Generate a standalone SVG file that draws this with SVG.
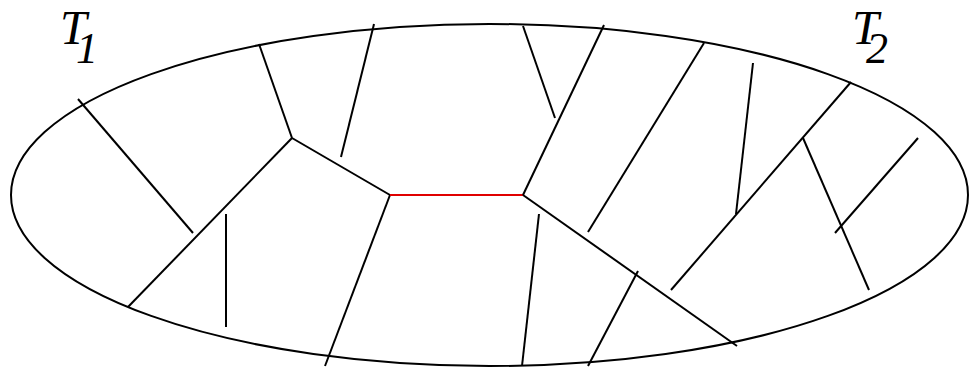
<svg xmlns="http://www.w3.org/2000/svg" width="972" height="368" viewBox="0 0 972 368">
<style>
.e{fill:none;stroke:#000;stroke-width:2}
.l{stroke:#000;stroke-width:2;stroke-linecap:butt}
.r{stroke:#e00000;stroke-width:2}
.t{font-family:"Liberation Serif","Times New Roman",serif;font-style:italic;fill:#000;font-size:48px}
.s{font-size:44px}
</style>
<rect width="972" height="368" fill="#fff"/>
<g id="boundary"><ellipse class="e" cx="489.5" cy="195" rx="478.5" ry="171"/></g>
<g id="label-T1"><text class="t" x="60" y="44">T<tspan class="s" x="76" y="63">1</tspan></text></g>
<g id="label-T2"><text class="t" x="852" y="44">T<tspan class="s" x="866" y="63">2</tspan></text></g>
<g id="connectors">
<line class="l" x1="292" y1="138" x2="259" y2="44"/>
<line class="l" x1="292" y1="138" x2="390" y2="195"/>
<line class="l" x1="292" y1="138" x2="128" y2="307"/>
<line class="l" x1="78" y1="99" x2="193" y2="233"/>
<line class="l" x1="226" y1="214" x2="226" y2="327"/>
<line class="l" x1="374" y1="24" x2="341" y2="157"/>
<line class="l" x1="390" y1="195" x2="325" y2="366"/>
<line class="r" x1="390" y1="195" x2="523" y2="195"/>
<line class="l" x1="523" y1="195" x2="604" y2="25"/>
<line class="l" x1="523" y1="26" x2="555" y2="118"/>
<line class="l" x1="704" y1="43" x2="588" y2="232"/>
<line class="l" x1="753" y1="63" x2="736" y2="214"/>
<line class="l" x1="851" y1="82" x2="671" y2="290"/>
<line class="l" x1="803" y1="138" x2="869" y2="290"/>
<line class="l" x1="918" y1="138" x2="835" y2="233"/>
<line class="l" x1="523" y1="195" x2="737" y2="346"/>
<line class="l" x1="638" y1="271" x2="588" y2="366"/>
<line class="l" x1="539" y1="214" x2="522" y2="366"/>
</g>
</svg>
